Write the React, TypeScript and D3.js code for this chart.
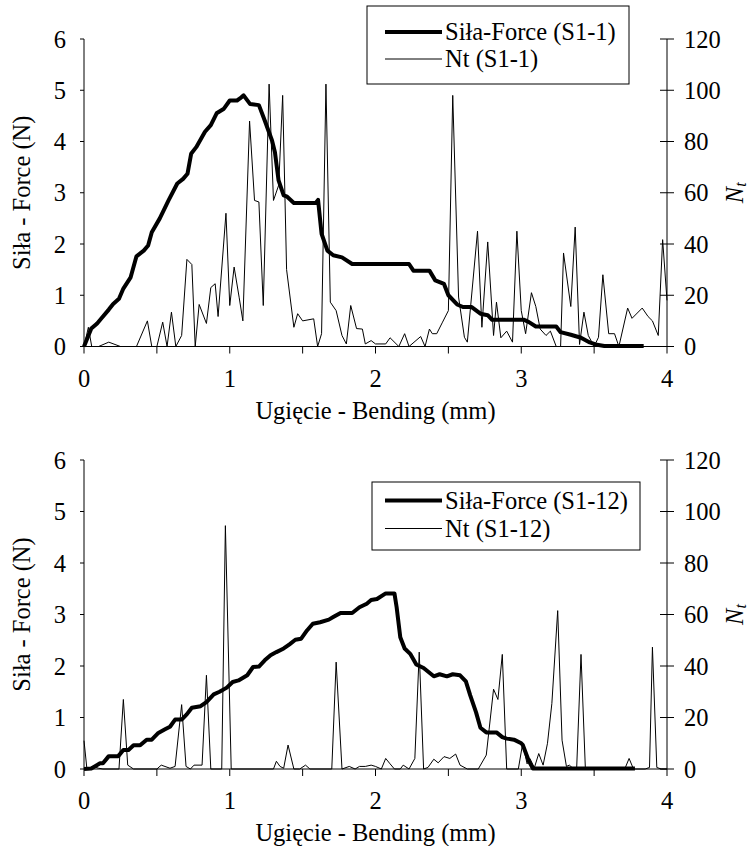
import React from "react";
import * as d3 from "d3";

// ---------- Data: panel 1 (S1-1) ----------
const force1X = [0.00,0.05,0.09,0.12,0.17,0.20,0.24,0.27,0.32,0.36,0.41,0.44,0.465,0.52,0.58,0.64,0.68,0.71,0.735,0.77,0.83,0.87,0.91,0.96,1.00,1.05,1.07,1.095,1.14,1.20,1.24,1.29,1.31,1.335,1.37,1.39,1.44,1.59,1.606,1.63,1.67,1.71,1.77,1.84,2.23,2.26,2.37,2.41,2.47,2.50,2.56,2.60,2.66,2.72,2.77,2.80,3.02,3.05,3.10,3.24,3.27,3.34,3.41,3.47,3.51,3.57,3.84];
const force1Y = [0.00,0.35,0.45,0.55,0.72,0.83,0.93,1.13,1.35,1.76,1.87,1.97,2.23,2.50,2.85,3.18,3.27,3.37,3.76,3.89,4.19,4.32,4.55,4.64,4.80,4.80,4.84,4.90,4.73,4.71,4.41,4.02,3.79,3.24,2.95,2.93,2.80,2.80,2.86,2.20,1.87,1.78,1.74,1.61,1.61,1.48,1.48,1.29,1.22,1.00,0.82,0.77,0.77,0.64,0.61,0.52,0.52,0.48,0.39,0.39,0.28,0.23,0.17,0.08,0.04,0.01,0.01];
const nt1X = [0.00,0.03,0.053,0.10,0.17,0.25,0.36,0.435,0.465,0.50,0.54,0.57,0.60,0.63,0.67,0.706,0.74,0.763,0.79,0.84,0.87,0.90,0.92,0.974,1.00,1.03,1.065,1.09,1.136,1.17,1.20,1.23,1.27,1.30,1.336,1.363,1.39,1.44,1.466,1.50,1.576,1.603,1.63,1.66,1.69,1.73,1.77,1.80,1.83,1.87,1.91,1.93,1.97,2.00,2.07,2.10,2.16,2.20,2.23,2.31,2.34,2.37,2.39,2.42,2.46,2.50,2.53,2.57,2.61,2.63,2.70,2.73,2.77,2.81,2.83,2.86,2.90,2.94,2.97,3.00,3.03,3.07,3.10,3.13,3.17,3.20,3.24,3.27,3.29,3.34,3.37,3.40,3.43,3.46,3.50,3.53,3.56,3.60,3.64,3.67,3.73,3.76,3.83,3.87,3.90,3.94,3.97,4.00];
const nt1Y = [0,7.5,0,0,1.7,0,0,10,0,0,9.5,0,13.4,0,4.3,34,32,0,16.4,9,23,24.5,11.7,52,16,31,19,10,88,57,56.4,16,102.4,57,63,98,30,7.5,12.8,10,10.8,0,5,102.4,17.3,14,4.3,1,16,7,6.8,1,2.3,1,1,3.4,0,5,0,3.9,0,6.8,5,5,9.5,14,98,19.3,3.6,1.7,45,7.5,40.8,4.3,17.3,3.4,6,1.7,45,14,5,21,15.6,6.8,4.3,6,0,0,36.5,15.6,46.6,0.8,13.4,4.3,0,3.6,28,5,5,0,15,11,15,11.7,10,4.3,41.7,18];

// ---------- Data: panel 2 (S1-12) ----------
const force2X = [0.00,0.05,0.11,0.13,0.17,0.235,0.27,0.305,0.34,0.385,0.43,0.465,0.51,0.556,0.59,0.625,0.67,0.705,0.74,0.80,0.84,0.89,0.93,0.98,1.02,1.06,1.12,1.16,1.20,1.24,1.28,1.32,1.37,1.41,1.45,1.49,1.53,1.57,1.62,1.68,1.71,1.76,1.84,1.89,1.94,1.97,2.01,2.07,2.13,2.145,2.17,2.20,2.24,2.28,2.33,2.40,2.44,2.49,2.53,2.58,2.62,2.65,2.69,2.72,2.76,2.83,2.87,2.90,2.95,3.00,3.01,3.05,3.08,3.78];
const force2Y = [0.00,0.01,0.11,0.11,0.25,0.25,0.37,0.37,0.46,0.46,0.57,0.57,0.70,0.77,0.82,0.96,0.96,1.06,1.19,1.22,1.30,1.45,1.50,1.58,1.69,1.72,1.82,1.98,1.99,2.11,2.21,2.27,2.34,2.42,2.51,2.53,2.69,2.82,2.85,2.90,2.95,3.03,3.03,3.14,3.21,3.28,3.30,3.41,3.41,3.14,2.56,2.34,2.23,2.03,1.96,1.80,1.84,1.80,1.84,1.82,1.70,1.43,1.10,0.80,0.71,0.71,0.62,0.59,0.57,0.50,0.47,0.17,0.01,0.01];
const nt2X = [0.00,0.02,0.06,0.10,0.13,0.24,0.27,0.30,0.34,0.50,0.53,0.59,0.625,0.67,0.70,0.73,0.755,0.81,0.84,0.87,0.945,0.97,1.01,1.30,1.32,1.345,1.37,1.40,1.44,1.48,1.52,1.55,1.70,1.73,1.77,1.82,1.86,1.89,1.93,1.97,2.00,2.04,2.07,2.10,2.13,2.17,2.19,2.23,2.27,2.30,2.33,2.36,2.40,2.43,2.47,2.51,2.55,2.58,2.63,2.705,2.76,2.81,2.84,2.87,2.90,2.98,3.01,3.04,3.06,3.09,3.12,3.15,3.18,3.21,3.25,3.28,3.31,3.33,3.36,3.38,3.41,3.44,3.71,3.74,3.77,3.85,3.88,3.90,3.93,3.96,4.00];
const nt2Y = [11,0,1,0.3,0,0,27,1.5,0,0,1.5,0.3,1,25,1,0,1.5,1.5,36.4,0,0,94.5,0,0,3,1,0.3,9.3,0,0,1.5,0,0,41.5,0,1,0,1,1,1.5,1,0,4.1,2,0,0,1.5,0,4.1,45.4,0,0.6,3.8,2.4,4.8,4.1,5.8,1.5,0,0,5.4,31,27,44.5,0,0,10,2,4,0.5,6,1.5,10,25.4,61.5,11.2,1,1.5,0,0,44.5,0,0,4.1,0,0,0.6,47.3,0.6,0,0];

// ---------- Axes ----------
const xTicks = [0, 0.5, 1, 1.5, 2, 2.5, 3, 3.5, 4];
const xLabelTicks = [0, 1, 2, 3, 4];
const leftTicks = [0, 1, 2, 3, 4, 5, 6];
const rightTicks = [0, 20, 40, 60, 80, 100, 120];

const legendForce1 = "Siła-Force (S1-1)";
const legendNt1 = "Nt (S1-1)";
const legendForce2 = "Siła-Force (S1-12)";
const legendNt2 = "Nt (S1-12)";
const xTitle = "Ugięcie - Bending (mm)";
const yTitle = "Siła - Force (N)";

const FONT = "Liberation Serif, Times New Roman, Times, DejaVu Serif, serif";
const FS = 24.5;

function zip(a: number[], b: number[]): [number, number][] {
  return a.map((v, i) => [v, b[i]] as [number, number]);
}

type PanelProps = {
  top: number;
  bottom: number;
  fx: number[]; fy: number[]; nx: number[]; ny: number[];
  legF: string; legN: string;
  legX: number; legY: number; legW: number; legH: number;
  rowF: number; rowN: number;
};

function Panel(p: PanelProps) {
  const left = 84, right = 667;
  const x = d3.scaleLinear().domain([0, 4]).range([left, right]);
  const yL = d3.scaleLinear().domain([0, 6]).range([p.bottom, p.top]);
  const yR = d3.scaleLinear().domain([0, 120]).range([p.bottom, p.top]);
  const lineF = d3.line<[number, number]>().x(d => x(d[0])).y(d => yL(d[1]));
  const lineN = d3.line<[number, number]>().x(d => x(d[0])).y(d => yR(d[1]));
  const midY = (p.top + p.bottom) / 2;
  const ts = { fontFamily: FONT, fontSize: FS };
  return (
    <g style={ts} fill="#000">
      <path d={lineN(zip(p.nx, p.ny)) || ""} fill="none" stroke="#000" strokeWidth={1} />
      <path d={lineF(zip(p.fx, p.fy)) || ""} fill="none" stroke="#000" strokeWidth={4} strokeLinejoin="round" />
      <line x1={left} x2={left} y1={p.top} y2={p.bottom} stroke="#000" strokeWidth={1} />
      <line x1={left} x2={right} y1={p.bottom} y2={p.bottom} stroke="#000" strokeWidth={1} />
      <line x1={right} x2={right} y1={p.top} y2={p.bottom} stroke="#000" strokeWidth={1} />
      {xTicks.map(t => (
        <line key={"xt" + t} x1={x(t)} x2={x(t)} y1={p.bottom} y2={p.bottom + 7} stroke="#000" strokeWidth={1} />
      ))}
      {xLabelTicks.map(t => (
        <text key={"xl" + t} x={x(t)} y={p.bottom + 40} textAnchor="middle" style={ts}>{t}</text>
      ))}
      {leftTicks.map(t => (
        <g key={"yl" + t}>
          <line x1={left - 4} x2={left} y1={yL(t)} y2={yL(t)} stroke="#000" strokeWidth={1} />
          <text x={66} y={yL(t) + 8.5} textAnchor="end" style={ts}>{t}</text>
        </g>
      ))}
      {rightTicks.map(t => (
        <g key={"yr" + t}>
          <line x1={right - 7} x2={right + 7} y1={yR(t)} y2={yR(t)} stroke="#000" strokeWidth={1} />
          <text x={684} y={yR(t) + 8.5} textAnchor="start" style={ts}>{t}</text>
        </g>
      ))}
      <text x={(left + right) / 2} y={p.bottom + 72} textAnchor="middle" style={ts}>{xTitle}</text>
      <text transform={`translate(30,${midY}) rotate(-90)`} textAnchor="middle" style={ts}>{yTitle}</text>
      <text transform={`translate(743,${midY}) rotate(-90)`} textAnchor="middle" style={{ ...ts, fontStyle: "italic" }}>
        N<tspan style={{ fontSize: 16 }} dy={3}>t</tspan>
      </text>
      <rect x={p.legX} y={p.legY} width={p.legW} height={p.legH} fill="#fff" stroke="#000" strokeWidth={1} />
      <line x1={385} x2={442} y1={p.legY + p.rowF} y2={p.legY + p.rowF} stroke="#000" strokeWidth={4} />
      <text x={445} y={p.legY + p.rowF + 8} style={ts}>{p.legF}</text>
      <line x1={385} x2={442} y1={p.legY + p.rowN} y2={p.legY + p.rowN} stroke="#000" strokeWidth={1} />
      <text x={445} y={p.legY + p.rowN + 8} style={ts}>{p.legN}</text>
    </g>
  );
}

export default function App() {
  return (
    <svg width={751} height={846} style={{ position: "absolute", left: 0, top: 0, background: "#fff" }}>
      <rect x={0} y={0} width={751} height={846} fill="#fff" />
      <Panel top={39} bottom={346.5} fx={force1X} fy={force1Y} nx={nt1X} ny={nt1Y}
        legF={legendForce1} legN={legendNt1} legX={367} legY={6} legW={262} legH={78} rowF={26} rowN={53} />
      <Panel top={460} bottom={769} fx={force2X} fy={force2Y} nx={nt2X} ny={nt2Y}
        legF={legendForce2} legN={legendNt2} legX={372} legY={482} legW={268} legH={68} rowF={18.5} rowN={46.5} />
    </svg>
  );
}
